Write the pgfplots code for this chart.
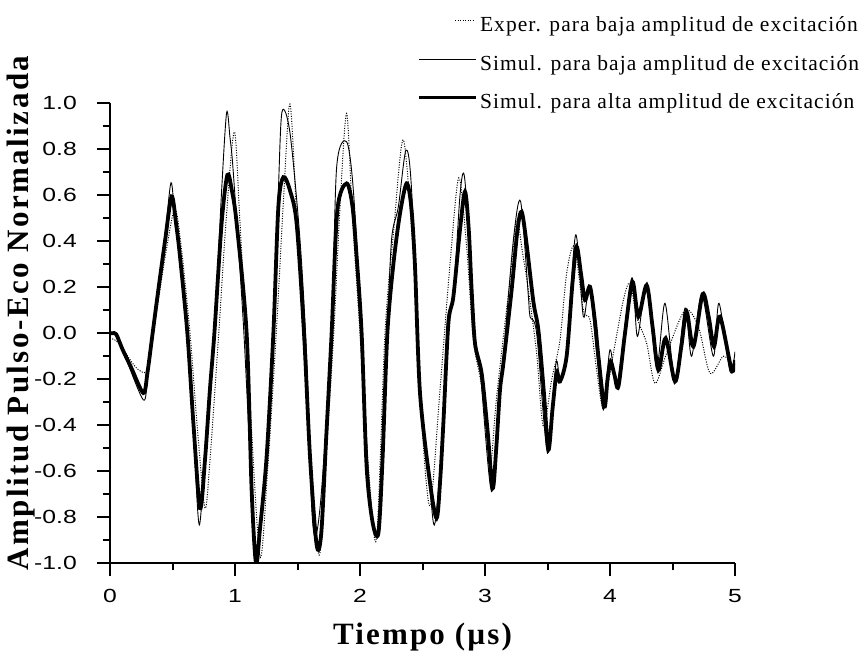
\documentclass[border=0pt]{standalone}
\usepackage{graphicx}
\usepackage{pgfplots}
\pgfplotsset{compat=1.18}
\usepackage{fontspec}
\setmainfont{Liberation Serif}
\newfontfamily\arialf{Liberation Sans}
\newfontfamily\labf[LetterSpace=7]{Liberation Serif}
\newfontfamily\labyf[LetterSpace=8]{Liberation Serif}
\newfontfamily\legf[LetterSpace=5]{Liberation Serif}
\newcommand\tlab[1]{{\arialf\fontsize{19}{20}\selectfont\scalebox{1.3}[1]{#1}}}

\pgfplotstableread{
t v
0 -0.02
0.04 -0.03
0.08 -0.05
0.13 -0.09
0.18 -0.13
0.23 -0.16
0.29 -0.165
0.33 -0.05
0.38 0.12
0.45 0.36
0.52 0.54
0.573 0.36
0.64 0
0.70 -0.42
0.76 -0.76
0.80 -0.55
0.87 0
0.93 0.5
0.995 0.875
1.04 0.48
1.12 -0.3
1.2 -0.97
1.26 -0.6
1.33 0
1.39 0.6
1.44 0.996
1.493 0.507
1.56 -0.15
1.667 -0.956
1.72 -0.6
1.79 0
1.84 0.55
1.893 0.955
1.94 0.5
2.0 0
2.07 -0.6
2.133 -0.89
2.2 0
2.27 0.45
2.347 0.84
2.427 0.333
2.49 -0.35
2.56 -0.75
2.64 -0.246
2.72 0.30
2.79 0.675
2.853 0.376
2.907 -0.03
2.973 -0.232
3.027 -0.522
3.05 -0.56
3.093 -0.276
3.2 0.231
3.253 0.492
3.30 0.35
3.347 0.188
3.413 -0.087
3.467 -0.406
3.533 -0.203
3.6 -0.03
3.653 0.26
3.715 0.376
3.787 0.10
3.84 0.058
3.893 -0.16
3.947 -0.326
4.013 -0.13
4.107 0.144
4.16 0.217
4.213 0.072
4.293 -0.044
4.36 -0.218
4.453 -0.087
4.6 0.10
4.707 0.028
4.8 -0.174
4.907 -0.10
4.987 -0.145
5.0 -0.13
}\exper

\pgfplotstableread{
t v
0 0
0.02 0
0.053 -0.015
0.12 -0.10
0.267 -0.29
0.30 -0.19
0.341 0
0.387 0.19
0.44 0.42
0.488 0.654
0.52 0.50
0.56 0.36
0.619 0
0.667 -0.405
0.715 -0.833
0.773 -0.39
0.835 0
0.893 0.62
0.933 0.958
0.96 0.85
0.987 0.694
1.067 0.04
1.133 -0.68
1.168 -1.0
1.20 -0.85
1.253 -0.536
1.307 0
1.347 0.62
1.376 0.962
1.44 0.87
1.52 0.405
1.573 -0.10
1.613 -0.75
1.645 -0.884
1.693 -0.68
1.773 0
1.813 0.72
1.893 0.832
1.947 0.62
2.013 0
2.067 -0.61
2.128 -0.884
2.187 -0.536
2.219 0
2.253 0.41
2.307 0.55
2.368 0.796
2.413 0.62
2.48 -0.25
2.56 -0.68
2.60 -0.825
2.667 -0.39
2.70 0.058
2.747 0.159
2.80 0.60
2.835 0.683
2.88 0.333
2.907 -0.014
2.96 -0.16
3.053 -0.688
3.12 -0.217
3.147 -0.10
3.227 0.405
3.285 0.572
3.347 0.16
3.36 0.072
3.413 0
3.501 -0.52
3.568 -0.13
3.60 -0.20
3.653 -0.087
3.725 0.427
3.787 0.072
3.835 0.202
3.893 -0.087
3.947 -0.333
4.0 -0.072
4.059 -0.217
4.173 0.239
4.219 -0.014
4.293 0.209
4.373 -0.145
4.44 0.13
4.52 -0.203
4.60 0.109
4.653 -0.10
4.733 0.167
4.827 -0.10
4.872 0.13
4.96 -0.167
5.0 -0.08
}\simbaja

\pgfplotstableread{
t v
0 0
0.02 0
0.05 -0.005
0.10 -0.07
0.17 -0.15
0.267 -0.26
0.30 -0.17
0.341 0
0.387 0.19
0.44 0.40
0.493 0.594
0.53 0.47
0.56 0.333
0.619 0
0.667 -0.39
0.72 -0.76
0.76 -0.55
0.80 -0.24
0.835 0
0.893 0.478
0.939 0.688
0.975 0.62
1.013 0.478
1.093 0
1.133 -0.68
1.168 -1.0
1.20 -0.85
1.253 -0.536
1.307 0
1.347 0.55
1.387 0.678
1.44 0.62
1.493 0.477
1.552 0
1.60 -0.536
1.653 -0.92
1.69 -0.87
1.73 -0.45
1.773 0
1.819 0.535
1.893 0.651
1.94 0.55
1.973 0.333
2.013 0
2.053 -0.58
2.10 -0.82
2.147 -0.869
2.18 -0.55
2.219 0
2.267 0.30
2.32 0.52
2.373 0.651
2.41 0.55
2.44 0.29
2.48 -0.26
2.56 -0.65
2.613 -0.804
2.64 -0.65
2.667 -0.39
2.707 0.043
2.747 0.159
2.80 0.45
2.84 0.615
2.87 0.45
2.893 0.188
2.92 -0.044
2.973 -0.174
3.02 -0.42
3.061 -0.674
3.09 -0.5
3.12 -0.246
3.147 -0.131
3.213 0.188
3.26 0.45
3.293 0.528
3.33 0.40
3.387 0.137
3.427 0.014
3.47 -0.25
3.507 -0.507
3.54 -0.33
3.573 -0.17
3.60 -0.21
3.653 -0.10
3.70 0.22
3.733 0.376
3.77 0.25
3.80 0.144
3.84 0.202
3.88 0.05
3.907 -0.10
3.955 -0.319
3.98 -0.2
4.005 -0.124
4.035 -0.18
4.067 -0.232
4.12 0.0
4.179 0.224
4.227 0.072
4.293 0.209
4.34 0.03
4.387 -0.16
4.445 -0.022
4.52 -0.21
4.57 -0.06
4.613 0.093
4.667 -0.058
4.741 0.17
4.79 0.07
4.832 -0.058
4.88 0.072
4.973 -0.16
5.0 -0.116
}\simalta

\begin{document}
\begin{tikzpicture}
\useasboundingbox (0,0) rectangle (859pt,651pt);
\begin{axis}[
  at={(110pt,87.7pt)}, anchor=south west,
  scale only axis, width=625pt, height=460.2pt,
  xmin=0, xmax=5, ymin=-1, ymax=1,
  axis x line=bottom, axis y line=left,
  axis line style={line width=2pt, -},
  xtick={0,1,2,3,4,5},
  ytick={-1,-0.8,-0.6,-0.4,-0.2,0,0.2,0.4,0.6,0.8,1},
  minor x tick num=1, minor y tick num=1,
  tick align=outside,
  major tick length=13pt, minor tick length=7pt,
  every tick/.style={line width=2pt, black},
  /pgf/number format/assume math mode=true,
  xticklabel={\tlab{\pgfmathprintnumber[fixed,precision=0]{\tick}}},
  yticklabel={\tlab{\pgfmathprintnumber[fixed,fixed zerofill,precision=1]{\tick}}},
  every y tick label/.append style={anchor=east, xshift=-20pt, inner sep=0pt},
  every x tick label/.append style={anchor=north, yshift=-13pt, inner sep=0pt},
  xlabel={\labf\bfseries Tiempo (µs)},
  ylabel={\labyf\bfseries Amplitud Pulso-Eco Normalizada},
  xlabel style={font=\fontsize{31}{33}\selectfont, at={(axis description cs:0.5,-0.16)}, anchor=center},
  ylabel style={font=\fontsize{31}{33}\selectfont, at={(axis description cs:-0.143,0.544)}, anchor=center},
  legend style={at={(axis description cs:0.4912,1.188)}, anchor=north west,
    draw=none, fill=none, inner sep=0pt,
    font=\legf\fontsize{21.5}{24}\selectfont,
    /tikz/row sep=22pt, nodes={inner sep=0pt}},
  legend cell align=left,
]
\addplot[black, line width=1pt, dash pattern=on 1pt off 1.5pt, smooth,
  legend image code/.code={\draw[black, line width=1pt, dash pattern=on 1pt off 1.5pt] (36pt,0.45em) -- (56pt,0.45em); \path (0pt,0pt) (59pt,0pt);}]
  table[x=t,y=v] {\exper};
\addlegendentry{Exper. para baja amplitud de excitación}
\addplot[black, line width=0.9pt, smooth,
  legend image code/.code={\draw[black, line width=0.9pt] (0pt,0.45em) -- (57pt,0.45em); \path (0pt,0pt) (59pt,0pt);}]
  table[x=t,y=v] {\simbaja};
\addlegendentry{Simul. para baja amplitud de excitación}
\addplot[black, line width=3.8pt, smooth,
  legend image code/.code={\draw[black, line width=3.8pt] (0pt,0.45em) -- (57pt,0.45em); \path (0pt,0pt) (59pt,0pt);}]
  table[x=t,y=v] {\simalta};
\addlegendentry{Simul. para alta amplitud de excitación}
\end{axis}
\end{tikzpicture}
\end{document}
